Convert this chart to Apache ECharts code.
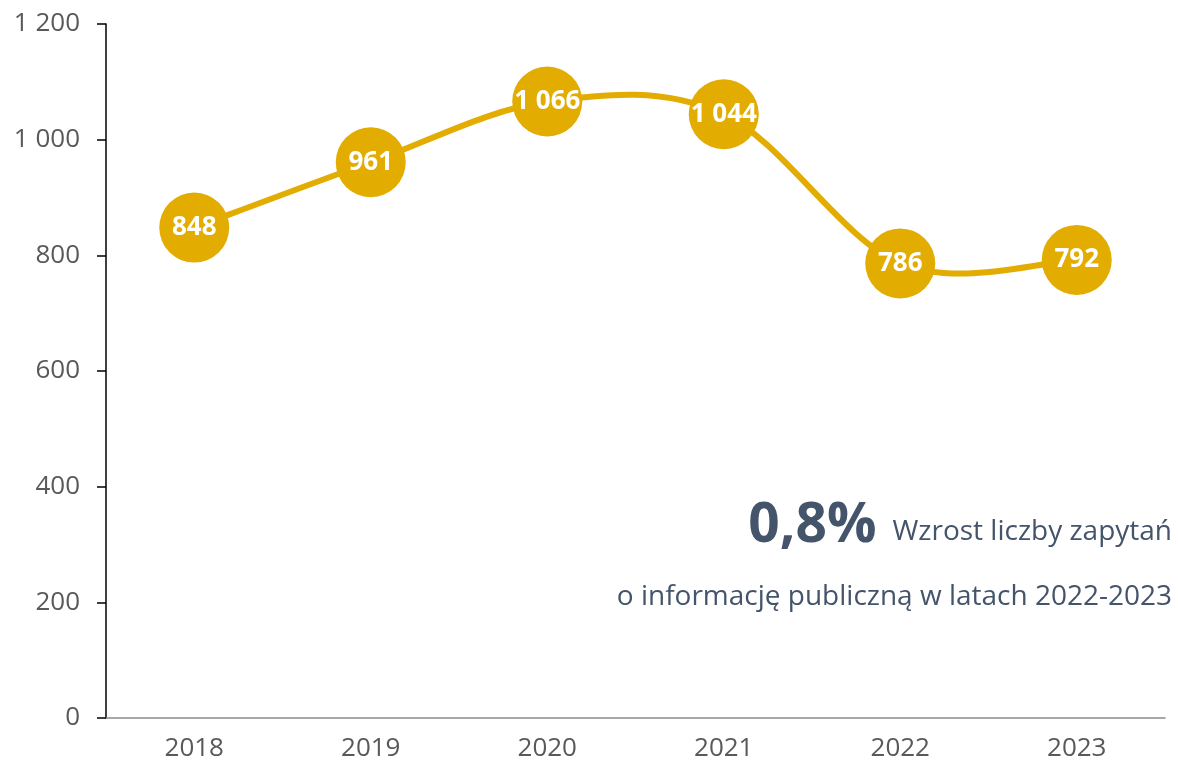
<!DOCTYPE html>
<html>
<head>
<meta charset="utf-8">
<script src="https://cdn.jsdelivr.net/npm/echarts@6/dist/echarts.min.js"></script>
<style>
  html, body { margin: 0; padding: 0; background: #fff; }
  #chart { width: 1178px; height: 768px; }
</style>
</head>
<body>
<div id="chart"></div>
<script>
var years = ['2018', '2019', '2020', '2021', '2022', '2023'];
var requests = [848, 961, 1066, 1044, 786, 792];
var yTicks = [0, 200, 400, 600, 800, 1000, 1200];

var gold = '#E2AC00';
var navy = '#44546A';
var font = '"Open Sans", "Noto Sans", sans-serif';

// "1 200" style - space as thousands separator
function fmt(v) {
    return String(v).replace(/\B(?=(\d{3})+(?!\d))/g, ' ');
}

// Excel-like smoothed line: cubic bezier with control points at 1/6 of neighbour difference
function renderSpline(params, api) {
    if (params.dataIndex !== 0) return null;
    var pts = requests.map(function (v, i) { return api.coord([i, v]); });
    var n = pts.length;
    var segs = [];
    for (var i = 0; i < n - 1; i++) {
        var p0 = pts[Math.max(i - 1, 0)];
        var p1 = pts[i];
        var p2 = pts[i + 1];
        var p3 = pts[Math.min(i + 2, n - 1)];
        segs.push({
            type: 'bezierCurve',
            shape: {
                x1: p1[0], y1: p1[1],
                x2: p2[0], y2: p2[1],
                cpx1: p1[0] + (p2[0] - p0[0]) / 6,
                cpy1: p1[1] + (p2[1] - p0[1]) / 6,
                cpx2: p2[0] - (p3[0] - p1[0]) / 6,
                cpy2: p2[1] - (p3[1] - p1[1]) / 6
            },
            style: { stroke: gold, lineWidth: 6, fill: null, lineCap: 'round' }
        });
    }
    return { type: 'group', children: segs };
}

var chart = echarts.init(document.getElementById('chart'));

var option = {
    animation: false,
    textStyle: { fontFamily: font },
    grid: { left: 106, right: 13, top: 24, bottom: 50 },
    xAxis: {
        type: 'category',
        data: years,
        axisLine: { lineStyle: { color: '#8c8c8c', width: 1.5 } },
        axisTick: { show: false },
        axisLabel: { color: '#595959', fontSize: 26, margin: 18 }
    },
    yAxis: {
        type: 'value',
        min: yTicks[0],
        max: yTicks[yTicks.length - 1],
        interval: 200,
        axisLine: { show: true, lineStyle: { color: '#000', width: 1.5 } },
        axisTick: { show: true, length: 9, lineStyle: { color: '#000', width: 1.5 } },
        splitLine: { show: false },
        axisLabel: { color: '#595959', fontSize: 26, margin: 26, formatter: fmt }
    },
    series: [
        {
            type: 'custom',
            coordinateSystem: 'cartesian2d',
            data: requests.map(function (v, i) { return [i, v]; }),
            encode: { x: 0, y: 1 },
            renderItem: renderSpline,
            silent: true,
            z: 1
        },
        {
            type: 'line',
            data: requests,
            symbol: 'circle',
            symbolSize: 70,
            lineStyle: { opacity: 0 },
            itemStyle: { color: gold },
            z: 3,
            label: {
                show: true,
                position: 'inside',
                color: '#fff',
                fontWeight: 'bold',
                fontSize: 26,
                formatter: function (p) { return fmt(p.value); }
            }
        }
    ],
    graphic: [
        {
            type: 'text',
            right: 6,
            top: 499,
            style: {
                text: '{big|0,8%}{small|Wzrost liczby zapytań}',
                align: 'right',
                rich: {
                    big: { fontSize: 55, fontWeight: 'bold', fill: navy, fontFamily: font, verticalAlign: 'bottom' },
                    small: { fontSize: 28, fill: navy, fontFamily: font, verticalAlign: 'bottom', padding: [0, 0, 8, 16] }
                }
            }
        },
        {
            type: 'text',
            right: 6,
            top: 583,
            style: {
                text: 'o informację publiczną w latach 2022-2023',
                fontSize: 28,
                fill: navy,
                fontFamily: font
            }
        }
    ]
};

chart.setOption(option);
</script>
</body>
</html>
